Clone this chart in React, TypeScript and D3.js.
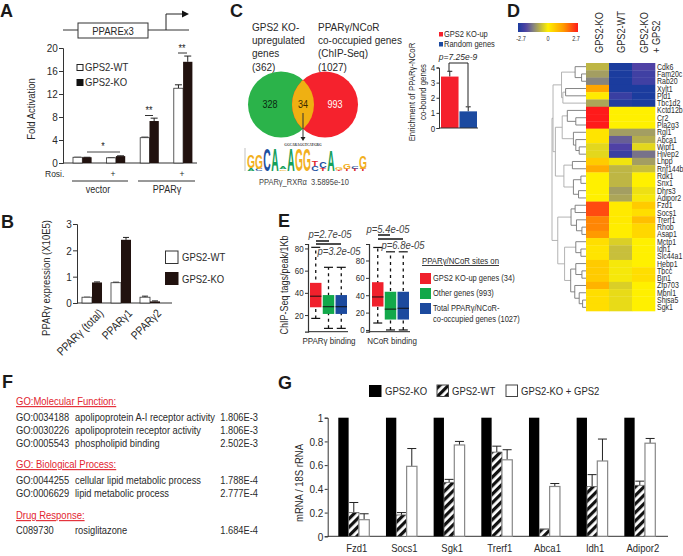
import React, { useEffect, useRef } from 'react'
import * as d3 from 'd3'

const FONT = '"Liberation Sans", Arial, sans-serif'
const INK = '#2a2a2a'
const BROWN = '#21120f'
// the figure's lettering is narrower and taller than plain Arial
const TALL = 1.17
const NARROW = 0.855

// A: reporter assay
const aGroups = ['vector', 'vector+', 'PPAR', 'PPAR+']
const aWT = [1, 0.9, 4.4, 13]
const aKO = [1, 1.2, 7.3, 17.6]
const aWTerr = [1, 0.9, 4.5, 13.6]
const aKOerr = [1, 1.25, 7.8, 18.6]
const aTicks = [0, 4, 8, 12, 16, 20]

// B: expression
const bGroups = ['PPARγ (total)', 'PPARγ1', 'PPARγ2']
const bWT = [0.22, 0.77, 0.22]
const bKO = [0.78, 2.4, 0.06]
const bWTerr = [0.22, 0.79, 0.26]
const bKOerr = [0.8, 2.49, 0.08]
const bTicks = [0, 1, 2, 3]

// C: enrichment bars and motif logo
const enrichValues = [3.4, 1.1]
const enrichErr = [3.75, 1.4]
const enrichNames = ['GPS2 KO-up', 'Random genes']
const enrichTicks = [0, 1, 2, 3, 4]
const logoColumns: [string, number][][] = [
  [['A', 0.12], ['G', 0.58]],
  [['C', 0.1], ['G', 0.62]],
  [['C', 1]],
  [['A', 1]],
  [['G', 0.07], ['A', 0.1]],
  [['A', 1]],
  [['G', 0.95]],
  [['G', 0.95]],
  [['C', 0.2], ['T', 0.25]],
  [['T', 0.12], ['C', 0.3]],
  [['A', 0.9]],
  [['T', 0.06], ['G', 0.1]],
  [['T', 0.1], ['G', 0.25]],
  [['T', 0.08], ['C', 0.12]],
  [['T', 0.1], ['G', 0.55]],
]

// D: heatmap
const genes = ['Cdk6', 'Fam20c', 'Rab20', 'Xylt1', 'Pld1', 'Tbc1d2', 'Kctd12b', 'Cr2', 'Pla2g3', 'Rgl1', 'Abca1', 'Wipf1', 'Hivep2', 'Lhpp', 'Rnf144b', 'Rdk1', 'Snx1', 'Dhrs3', 'Adipor2', 'Fzd1', 'Socs1', 'Trerf1', 'Rhob', 'Asap1', 'Mctp1', 'Idh1', 'Slc44a1', 'Hebp1', 'Tbcc', 'Bin1', 'Zfp703', 'Mbnl1', 'Shisa5', 'Sgk1']
const heatKO = [-0.7, -1, -1.3, 1.2, 0.1, -0.9, 2.7, 2.7, 2.7, 0.2, 0.2, -0.3, -0.3, 0.6, 1.1, 0, 0, 0, 0, 2.2, 2.2, 1.6, 1.6, 1.4, 0.3, 0.2, 0.2, 0.6, 0.6, 0.6, 1, 0.3, 0.3, 0.3]
const heatWT = [-2.7, -2.7, -2.7, -2.7, -2.3, -2.6, 0, 0, 0, -1, -1.7, -2, -2.3, -0.15, -0.7, -0.7, -0.7, -1, -0.9, 0.1, 0.1, 0.1, 0.05, 0.05, -0.4, -0.6, -0.6, -0.1, -0.1, -0.1, -0.4, -0.25, -0.25, -0.25]
const heatRescue = [-2, -2.2, -2.2, -2.7, -2.7, -2.7, 0, 0, 0, -1, -0.8, -0.3, -1.5, -1, -0.6, 0, 0, -0.2, -0.1, 0.6, 0.3, 0.8, 0.4, 0.4, 0, 0, 0, 0, 0.3, 0.3, 0, 0, 0, 0]
const colorStops = [-2.7, -2, -1.3, 0, 1.4, 2.7]
const colorRange = ['#1b3c9e', '#4f41a5', '#87857f', '#fff000', '#ff9a00', '#ff1a1a']

type Node = { h?: number, c?: Node[], name?: string }
const n = (h: number, ...c: (Node | string)[]): Node => ({ h, c: c.map(k => typeof k === 'string' ? { name: k, h: 0 } : k) })
const dendro = n(1,
  n(0.97,
    n(0.72,
      n(0.32, 'Cdk6', n(0.13, 'Fam20c', 'Rab20')),
      n(0.68, n(0.6, 'Xylt1', 'Pld1'), 'Tbc1d2')),
    n(0.9,
      n(0.7,
        n(0.55, 'Kctd12b', n(0.3, 'Cr2', 'Pla2g3')),
        n(0.37, 'Rgl1', n(0.3, 'Abca1', n(0.2, 'Wipf1', 'Hivep2')))),
      n(0.65,
        n(0.4, 'Lhpp', 'Rnf144b'),
        n(0.37, n(0.15, 'Rdk1', 'Snx1'), n(0.22, 'Dhrs3', 'Adipor2'))))),
  n(0.83,
    n(0.44,
      n(0.32, 'Fzd1', 'Socs1'),
      n(0.28, 'Trerf1', n(0.12, 'Rhob', 'Asap1'))),
    n(0.63,
      n(0.3, 'Mctp1', n(0.15, 'Idh1', 'Slc44a1')),
      n(0.45,
        n(0.3, 'Hebp1', n(0.12, 'Tbcc', 'Bin1')),
        n(0.33, 'Zfp703', n(0.2, 'Mbnl1', n(0.1, 'Shisa5', 'Sgk1')))))))

// E: box plots [low, q1, median, q3, high]
const boxColors = ['#f0202c', '#12a84a', '#1c4a9e']
const boxPparg = [[17, 27, 37, 49, 81], [8, 21, 27.5, 38, 63], [8, 21, 27.5, 38, 63]]
const boxNcor = [[8, 27, 38, 55, 95], [0, 12, 24, 44, 90], [0, 12, 25, 44, 90]]
const ppargTicks = [20, 40, 60, 80]
const ncorTicks = [0, 20, 40, 60, 80]

// F: GO tables
const goMolecular = [
  ['GO:0034188', 'apolipoprotein A-I receptor activity', '1.806E-3'],
  ['GO:0030226', 'apolipoprotein receptor activity', '1.806E-3'],
  ['GO:0005543', 'phospholipid binding', '2.502E-3'],
]
const goBiological = [
  ['GO:0044255', 'cellular lipid metabolic process', '1.788E-4'],
  ['GO:0006629', 'lipid metabolic process', '2.777E-4'],
]
const goDrug = [['C089730', 'rosiglitazone', '1.684E-4']]

// G: qPCR
const gGenes = ['Fzd1', 'Socs1', 'Sgk1', 'Trerf1', 'Abca1', 'Idh1', 'Adipor2']
const gKO = [1, 1, 1, 1, 1, 1, 1]
const gWT = [0.2, 0.18, 0.455, 0.71, 0.06, 0.42, 0.43]
const gRescue = [0.14, 0.59, 0.77, 0.645, 0.42, 0.635, 0.785]
const gWTerr = [0.285, 0.2, 0.48, 0.76, 0.06, 0.52, 0.465]
const gRescueErr = [0.19, 0.74, 0.8, 0.73, 0.445, 0.82, 0.825]
const gTicks = [0, 0.2, 0.4, 0.6, 0.8, 1]

type Sel = d3.Selection<any, any, any, any>

// size is the width-equivalent Arial size, the glyphs are drawn taller and squeezed back
function label(g: Sel, x: number, y: number, s: string, size: number, opts: any = {}) {
  const squeeze = opts.plain ? 1 : NARROW
  const t = g.append('text')
    .attr('transform', `translate(${x},${y}) rotate(${opts.rotate ?? 0}) scale(${squeeze},1)`)
    .attr('font-size', opts.plain ? size : size * TALL)
    .attr('fill', opts.fill ?? INK)
    .attr('text-anchor', opts.anchor ?? 'start')
    .text(s)
  if (opts.weight) t.attr('font-weight', opts.weight)
  if (opts.italic) t.attr('font-style', 'italic')
  if (opts.underline) t.attr('text-decoration', 'underline')
  return t
}

function seg(g: Sel, x1: number, y1: number, x2: number, y2: number, stroke = '#222', w = 1) {
  return g.append('line').attr('x1', x1).attr('y1', y1).attr('x2', x2).attr('y2', y2)
    .attr('stroke', stroke).attr('stroke-width', w)
}

function leftAxis(g: Sel, x: number, scale: any, ticks: number[], size: number, tickLen = 4) {
  const ax = g.append('g').attr('transform', `translate(${x},0)`)
    .call(d3.axisLeft(scale).tickValues(ticks).tickSizeOuter(0).tickSize(tickLen).tickPadding(2).tickFormat((d: any) => String(d)) as any)
  ax.selectAll('text').attr('font-size', size * TALL).attr('font-family', FONT).attr('fill', INK)
    .attr('transform', `scale(${NARROW},1)`)
  ax.selectAll('line,path').attr('stroke', '#333')
  return ax
}

function errorBar(g: Sel, cx: number, y0: number, y1: number, cap: number, stroke = '#222') {
  seg(g, cx, y0, cx, y1, stroke, 1)
  seg(g, cx - cap, y1, cx + cap, y1, stroke, 1)
}

function drawA(svg: Sel) {
  const g = svg.append('g')
  seg(g, 63, 30, 189, 30, '#333')
  g.append('rect').attr('x', 78).attr('y', 23).attr('width', 70).attr('height', 15).attr('fill', '#fff').attr('stroke', '#333')
  label(g, 113, 35, 'PPAREx3', 9.5, { anchor: 'middle' })
  g.append('path').attr('d', d3.line()([[166, 30], [166, 14], [182, 14]]) as string).attr('fill', 'none').attr('stroke', '#222')
  g.append('path').attr('d', d3.line()([[182, 10.5], [189, 14], [182, 17.5]]) as string).attr('fill', '#111')

  const y = d3.scaleLinear().domain([0, 20]).range([163, 48])
  const x = d3.scaleBand<string>().domain(aGroups).range([73, 192.4]).paddingInner(0.446)
  seg(g, 63, y(0), 197, y(0), '#333')
  leftAxis(g, 63, y, aTicks, 10)
  aGroups.forEach((k, i) => {
    const w = x.bandwidth() / 2
    const x0 = x(k) as number
    errorBar(g, x0 + w / 2, y(aWT[i]), y(aWTerr[i]), 3.5)
    errorBar(g, x0 + w * 1.5, y(aKO[i]), y(aKOerr[i]), 3.5)
    g.append('rect').attr('x', x0).attr('y', y(aWT[i])).attr('width', w).attr('height', y(0) - y(aWT[i])).attr('fill', '#fff').attr('stroke', '#333').attr('stroke-width', 0.8)
    g.append('rect').attr('x', x0 + w).attr('y', y(aKO[i])).attr('width', w).attr('height', y(0) - y(aKO[i])).attr('fill', BROWN)
  })
  seg(g, 87, 152, 120, 152, '#444')
  label(g, 103, 150, '*', 9, { anchor: 'middle' })
  seg(g, 145, 115.5, 153, 115.5, '#333')
  label(g, 149, 114, '**', 9, { anchor: 'middle' })
  seg(g, 178, 53, 187, 53, '#333')
  label(g, 182, 52, '**', 9, { anchor: 'middle' })

  g.append('rect').attr('x', 77).attr('y', 64.5).attr('width', 6).attr('height', 6).attr('fill', '#fff').attr('stroke', '#222')
  label(g, 85, 71, 'GPS2-WT', 9.5)
  g.append('rect').attr('x', 76.5).attr('y', 79).attr('width', 7).attr('height', 7).attr('fill', '#111')
  label(g, 85, 86, 'GPS2-KO', 9.5)
  label(g, 35, 109, 'Fold Activation', 9.5, { anchor: 'middle', rotate: -90 })
  label(g, 45, 177, 'Rosi.', 8.5)
  label(g, 113, 177, '+', 8.5, { anchor: 'middle' })
  label(g, 182, 177, '+', 8.5, { anchor: 'middle' })
  seg(g, 72, 181, 128, 181, '#333')
  seg(g, 138, 181, 195, 181, '#333')
  label(g, 98, 193, 'vector', 9, { anchor: 'middle' })
  label(g, 167, 193, 'PPARγ', 9, { anchor: 'middle' })
}

function drawB(svg: Sel) {
  const g = svg.append('g')
  const y = d3.scaleLinear().domain([0, 3]).range([303, 224])
  const x = d3.scaleBand<string>().domain(bGroups).range([82, 160]).paddingInner(0.31)
  seg(g, 77, y(0), 172, y(0), '#333')
  leftAxis(g, 77, y, bTicks, 10)
  bGroups.forEach((k, i) => {
    const w = x.bandwidth() / 2
    const x0 = x(k) as number
    errorBar(g, x0 + w / 2, y(bWT[i]), y(bWTerr[i]), 3)
    errorBar(g, x0 + w * 1.5, y(bKO[i]), y(bKOerr[i]), 3)
    g.append('rect').attr('x', x0).attr('y', y(bWT[i])).attr('width', w).attr('height', y(0) - y(bWT[i])).attr('fill', '#fff').attr('stroke', '#333').attr('stroke-width', 0.8)
    g.append('rect').attr('x', x0 + w).attr('y', y(bKO[i])).attr('width', w).attr('height', y(0) - y(bKO[i])).attr('fill', BROWN)
    label(g, x0 + w * 2 + 2, 314, k, 10, { anchor: 'end', rotate: -45 })
  })
  label(g, 50, 278, 'PPARγ expression (X10E5)', 9.5, { anchor: 'middle', rotate: -90 })
  g.append('rect').attr('x', 165.5).attr('y', 251).attr('width', 12.5).attr('height', 12.5).attr('fill', '#fff').attr('stroke', '#333')
  label(g, 182, 261, 'GPS2-WT', 9.5)
  g.append('rect').attr('x', 165).attr('y', 272).attr('width', 13.5).attr('height', 13).attr('fill', BROWN)
  label(g, 182, 283, 'GPS2-KO', 9.5)
}

function drawC(svg: Sel) {
  const g = svg.append('g')
  ;['GPS2 KO-', 'upregulated', 'genes', '(362)'].forEach((s, i) => label(g, 252, 31 + i * 13.2, s, 10))
  ;['PPARγ/NCoR', 'co-occupied genes', '(ChIP-Seq)', '(1027)'].forEach((s, i) => label(g, 318, 31 + i * 13.2, s, 10))

  const defs = g.append('defs')
  defs.append('clipPath').attr('id', 'venn-clip').append('circle').attr('cx', 325).attr('cy', 104.5).attr('r', 33)
  g.append('circle').attr('cx', 281).attr('cy', 104.5).attr('r', 33).attr('fill', '#2bb34a')
  g.append('circle').attr('cx', 325).attr('cy', 104.5).attr('r', 33).attr('fill', '#f5222d')
  g.append('circle').attr('cx', 281).attr('cy', 104.5).attr('r', 33).attr('fill', '#efb012').attr('clip-path', 'url(#venn-clip)')
  label(g, 270, 108, '328', 9, { anchor: 'middle', fill: '#0a2a10' })
  label(g, 303, 108, '34', 9, { anchor: 'middle', fill: '#3a2a00' })
  label(g, 335, 108, '993', 9, { anchor: 'middle', fill: '#fff' })
  seg(g, 303, 113, 303, 137, '#333')
  g.append('path').attr('d', d3.line()([[300.5, 137], [305.5, 137], [303, 141]]) as string).attr('fill', '#222')
  label(g, 303, 145.5, 'GGCARAGGTCAYGRG', 3.4, { anchor: 'middle', weight: 'bold', plain: true }).attr('font-family', 'Liberation Serif')

  // motif logo, letters stacked up from the baseline
  const letterColor: Record<string, string> = { G: '#f2b01e', C: '#1c50a0', A: '#14a05a', T: '#e0262c' }
  const lx = d3.scaleBand<number>().domain(d3.range(logoColumns.length)).range([247, 367]).padding(0.02)
  const lh = d3.scaleLinear().domain([0, 1]).range([0, 23])
  seg(g, 245, 148, 245, 171, '#999', 0.6)
  logoColumns.forEach((col, i) => {
    let base = 171
    col.forEach(([ch, v]) => {
      const h = lh(v)
      const sy = h / 7.16
      const sx = lx.bandwidth() / 7.6
      g.append('text').attr('transform', `translate(${(lx(i) as number) + lx.bandwidth() / 2},${base}) scale(${sx},${sy})`)
        .attr('text-anchor', 'middle').attr('font-size', 10).attr('font-weight', 'bold')
        .attr('fill', letterColor[ch]).text(ch)
      base -= h
    })
  })
  label(g, 259, 185, 'PPARγ_RXRα', 7.5, { fill: '#444' })
  label(g, 311, 185, '3.5895e-10', 7.5, { fill: '#444' })

  // enrichment bars
  const y = d3.scaleLinear().domain([0, 4]).range([128, 67.5])
  const x = d3.scaleBand<string>().domain(enrichNames).range([441, 477]).paddingInner(0.05)
  const colors = ['#f5202c', '#1c4aa0']
  enrichNames.forEach((k, i) => {
    const cx = (x(k) as number) + x.bandwidth() / 2
    errorBar(g, cx, y(enrichValues[i]), y(enrichErr[i]), 2.5)
    g.append('rect').attr('x', x(k) as number).attr('y', y(enrichValues[i])).attr('width', x.bandwidth()).attr('height', y(0) - y(enrichValues[i])).attr('fill', colors[i])
    g.append('rect').attr('x', 439).attr('y', 32 + i * 10).attr('width', 4).attr('height', 4.5).attr('fill', colors[i])
    label(g, 444, 37 + i * 10, k, 7.5)
  })
  seg(g, 439, y(0), 478, y(0), '#333')
  leftAxis(g, 439, y, enrichTicks, 8, 2.5)
  g.append('path').attr('d', d3.line()([[449, 71], [449, 63], [468, 63], [468, 106]]) as string).attr('fill', 'none').attr('stroke', '#222')
  label(g, 458, 60, 'p=7.25e-9', 8.5, { anchor: 'middle', italic: true })
  label(g, 414.5, 92, 'Enrichment of PPARγ-NCoR', 7.8, { anchor: 'middle', rotate: -90 })
  label(g, 426, 92, 'co-bound genes', 7.8, { anchor: 'middle', rotate: -90 })
}

function drawD(svg: Sel) {
  const g = svg.append('g')
  const color = d3.scaleLinear<string>().domain(colorStops).range(colorRange).clamp(true)
  const colX = d3.scaleBand<number>().domain([0, 1, 2]).range([586, 655])
  const rowY = d3.scaleBand<string>().domain(genes).range([63, 311])
  ;[heatKO, heatWT, heatRescue].forEach((vals, c) => {
    vals.forEach((v, r) => {
      g.append('rect').attr('x', colX(c) as number).attr('y', rowY(genes[r]) as number)
        .attr('width', colX.bandwidth() + 0.3).attr('height', rowY.bandwidth() + 0.3).attr('fill', color(v))
    })
  })
  genes.forEach(s => label(g, 657, (rowY(s) as number) + rowY.bandwidth() / 2 + 3, s, 7))

  // colour key
  const key = d3.scaleLinear().domain([-2.7, 2.7]).range([518, 578])
  const grad = g.append('defs').append('linearGradient').attr('id', 'heat-key')
  d3.range(-2.7, 2.71, 0.27).forEach(v => {
    grad.append('stop').attr('offset', `${(key(v) - 518) / 60 * 100}%`).attr('stop-color', color(v))
  })
  g.append('rect').attr('x', 518).attr('y', 23).attr('width', 60).attr('height', 9).attr('fill', 'url(#heat-key)')
  ;[-2.7, 0, 2.7].forEach(v => label(g, key(v) + (v === -2.7 ? 3 : v === 2.7 ? -2 : 0), 41, String(v), 5.5, { anchor: 'middle' }))

  label(g, 603, 53, 'GPS2-KO', 9.2, { rotate: -90 })
  label(g, 625, 53, 'GPS2-WT', 9.2, { rotate: -90 })
  label(g, 648, 53, 'GPS2-KO', 9.2, { rotate: -90 })
  label(g, 660, 53, '+ GPS2', 9.2, { rotate: -90 })

  // dendrogram from the nested merge heights
  const hx = d3.scaleLinear().domain([0, 1]).range([586, 552])
  const root = d3.hierarchy<Node>(dendro, d => d.c)
  const cy = new Map<any, number>()
  root.eachAfter(d => {
    if (!d.children) cy.set(d, (rowY(d.data.name as string) as number) + rowY.bandwidth() / 2)
    else cy.set(d, (cy.get(d.children[0])! + cy.get(d.children[d.children.length - 1])!) / 2)
  })
  root.each(d => {
    if (!d.children) return
    const x0 = hx(d.data.h as number)
    const shade = (d.data.h as number) > 0.6 ? '#aaa' : '#777'
    seg(g, x0, cy.get(d.children[0])!, x0, cy.get(d.children[d.children.length - 1])!, shade, 0.9)
    d.children.forEach(k => seg(g, x0, cy.get(k)!, hx(k.data.h as number), cy.get(k)!, shade, 0.9))
  })
}

function boxes(g: Sel, data: number[][], y: any, xLeft: number, xRight: number, axisX: number, ticks: number[]) {
  const x = d3.scaleBand<number>().domain([0, 1, 2]).range([xLeft, xRight]).paddingInner(0.1)
  const [bottom] = y.range()
  seg(g, axisX, bottom, xRight + 1, bottom, '#222', 1)
  leftAxis(g, axisX, y, ticks, 8, 3).selectAll('path').attr('stroke-width', 1.2)
  data.forEach((b, i) => {
    const x0 = x(i) as number
    const w = x.bandwidth()
    const cx = x0 + w / 2
    seg(g, cx, y(b[0]), cx, y(b[4]), '#111', 1.3).attr('stroke-dasharray', '3,3.5')
    seg(g, cx - 4.5, y(b[0]), cx + 4.5, y(b[0]), '#111', 1.2)
    seg(g, cx - 4.5, y(b[4]), cx + 4.5, y(b[4]), '#111', 1.2)
    g.append('rect').attr('x', x0).attr('y', y(b[3])).attr('width', w).attr('height', y(b[1]) - y(b[3])).attr('fill', boxColors[i])
    seg(g, x0, y(b[2]), x0 + w, y(b[2]), '#111', 1)
  })
}

function drawE(svg: Sel) {
  const g = svg.append('g')
  const yL = d3.scaleLinear().domain([5, 84]).range([331.7, 244])
  const yR = d3.scaleLinear().domain([-2, 99]).range([331.7, 244])
  boxes(g, boxPparg, yL, 310, 347, 308, ppargTicks)
  boxes(g, boxNcor, yR, 372, 409, 369, ncorTicks)
  seg(g, 316, 241, 329, 241, '#111', 1.5)
  seg(g, 316, 244, 341, 244, '#111', 1.5)
  seg(g, 378, 235, 390, 235, '#111', 1.5)
  seg(g, 378, 239, 403, 239, '#111', 1.5)
  const pOpts = { anchor: 'middle', italic: true, fill: '#444' }
  label(g, 330, 238, 'p=2.7e-05', 9.5, pOpts)
  label(g, 339, 255, 'p=3.2e-05', 9.5, pOpts)
  label(g, 388, 233, 'p=5.4e-05', 9.5, pOpts)
  label(g, 403, 249, 'p=6.8e-05', 9.5, pOpts)
  label(g, 329, 344, 'PPARγ binding', 8, { anchor: 'middle' })
  label(g, 392, 344, 'NCoR binding', 8, { anchor: 'middle' })
  label(g, 288, 285, 'ChIP-Seq tags/peak/1Kb', 9, { anchor: 'middle', rotate: -90 })
  label(g, 422, 264, 'PPARγ/NCoR sites on', 7.8, { underline: true })
  const rows = [['GPS2 KO-up genes (34)'], ['Other genes (993)'], ['Total PPARγ/NCoR-', 'co-occupied genes (1027)']]
  rows.forEach((r, i) => {
    const top = 273 + i * 15
    g.append('rect').attr('x', 420).attr('y', top).attr('width', 11).attr('height', 11).attr('fill', boxColors[i])
    r.forEach((s, j) => label(g, 433, top + 8 + j * 11, s, 7.5))
  })
}

function drawF(svg: Sel) {
  const g = svg.append('g')
  const RED = '#e2252f'
  const table = (rows: string[][], startY: number) => rows.forEach((r, i) => {
    const yy = startY + i * 12.8
    label(g, 16, yy, r[0], 9.3)
    label(g, 75, yy, r[1], 9.3)
    label(g, 258, yy, r[2], 9.3, { anchor: 'end' })
  })
  label(g, 16, 405, 'GO:Molecular Function:', 9.5, { fill: RED, underline: true })
  table(goMolecular, 421)
  label(g, 16, 468, 'GO: Biological Process:', 9.5, { fill: RED, underline: true })
  table(goBiological, 484)
  label(g, 16, 519, 'Drug Response:', 9.5, { fill: RED, underline: true })
  table(goDrug, 534)
}

function drawG(svg: Sel) {
  const g = svg.append('g')
  const defs = g.append('defs')
  const pat = defs.append('pattern').attr('id', 'hatch').attr('patternUnits', 'userSpaceOnUse')
    .attr('width', 6).attr('height', 6).attr('patternTransform', 'rotate(45)')
  pat.append('rect').attr('width', 6).attr('height', 6).attr('fill', '#fff')
  pat.append('rect').attr('width', 3.2).attr('height', 6).attr('fill', '#111')

  const y = d3.scaleLinear().domain([0, 1]).range([536.3, 417.7])
  const x = d3.scaleBand<string>().domain(gGenes).range([338.3, 655.3]).paddingInner(0.35)
  seg(g, 327.7, y(0), 668, y(0), '#333')
  leftAxis(g, 327.7, y, gTicks, 10, 3)
  gGenes.forEach((k, i) => {
    const w = x.bandwidth() / 3
    const x0 = x(k) as number
    errorBar(g, x0 + w * 1.5, y(gWT[i]), y(gWTerr[i]), 4.5)
    errorBar(g, x0 + w * 2.5, y(gRescue[i]), y(gRescueErr[i]), 4.5)
    g.append('rect').attr('x', x0).attr('y', y(gKO[i])).attr('width', w).attr('height', y(0) - y(gKO[i])).attr('fill', '#000')
    g.append('rect').attr('x', x0 + w).attr('y', y(gWT[i])).attr('width', w).attr('height', y(0) - y(gWT[i])).attr('fill', 'url(#hatch)').attr('stroke', '#666').attr('stroke-width', 0.8)
    g.append('rect').attr('x', x0 + w * 2).attr('y', y(gRescue[i])).attr('width', w).attr('height', y(0) - y(gRescue[i])).attr('fill', '#fff').attr('stroke', '#888').attr('stroke-width', 1.2)
    label(g, x0 + x.bandwidth() / 2 + 3, 552, k, 9.5, { anchor: 'middle' })
  })
  label(g, 303, 483, 'mRNA / 18S rRNA', 9.5, { anchor: 'middle', rotate: -90 })
  g.append('rect').attr('x', 369).attr('y', 385).attr('width', 12.5).attr('height', 12).attr('fill', '#000')
  label(g, 385, 395, 'GPS2-KO', 9.5)
  g.append('rect').attr('x', 437).attr('y', 385).attr('width', 11.5).attr('height', 11.5).attr('fill', 'url(#hatch)').attr('stroke', '#444')
  label(g, 452, 395, 'GPS2-WT', 9.5)
  g.append('rect').attr('x', 506).attr('y', 385).attr('width', 11.5).attr('height', 11.5).attr('fill', '#fff').attr('stroke', '#444')
  label(g, 521, 395, 'GPS2-KO + GPS2', 9.5)
}

export default function App() {
  const ref = useRef<SVGSVGElement | null>(null)

  useEffect(() => {
    if (!ref.current) return
    const svg = d3.select(ref.current)
    svg.selectAll('*').remove()
    svg.append('rect').attr('width', 683).attr('height', 556).attr('fill', '#fff')
    drawA(svg)
    drawB(svg)
    drawC(svg)
    drawD(svg)
    drawE(svg)
    drawF(svg)
    drawG(svg)
    const letters: [string, number, number][] = [['A', 0, 17], ['B', 1, 228], ['C', 230, 17], ['D', 507, 17], ['E', 278, 227], ['F', 2, 388], ['G', 278, 389]]
    letters.forEach(([s, x, y]) => label(svg, x, y, s, 18, { weight: 'bold', fill: '#1a1a1a', plain: true }))
  }, [])

  return (
    <svg ref={ref} width={683} height={556} fontFamily={FONT} style={{ position: 'absolute', left: 0, top: 0 }} />
  )
}
